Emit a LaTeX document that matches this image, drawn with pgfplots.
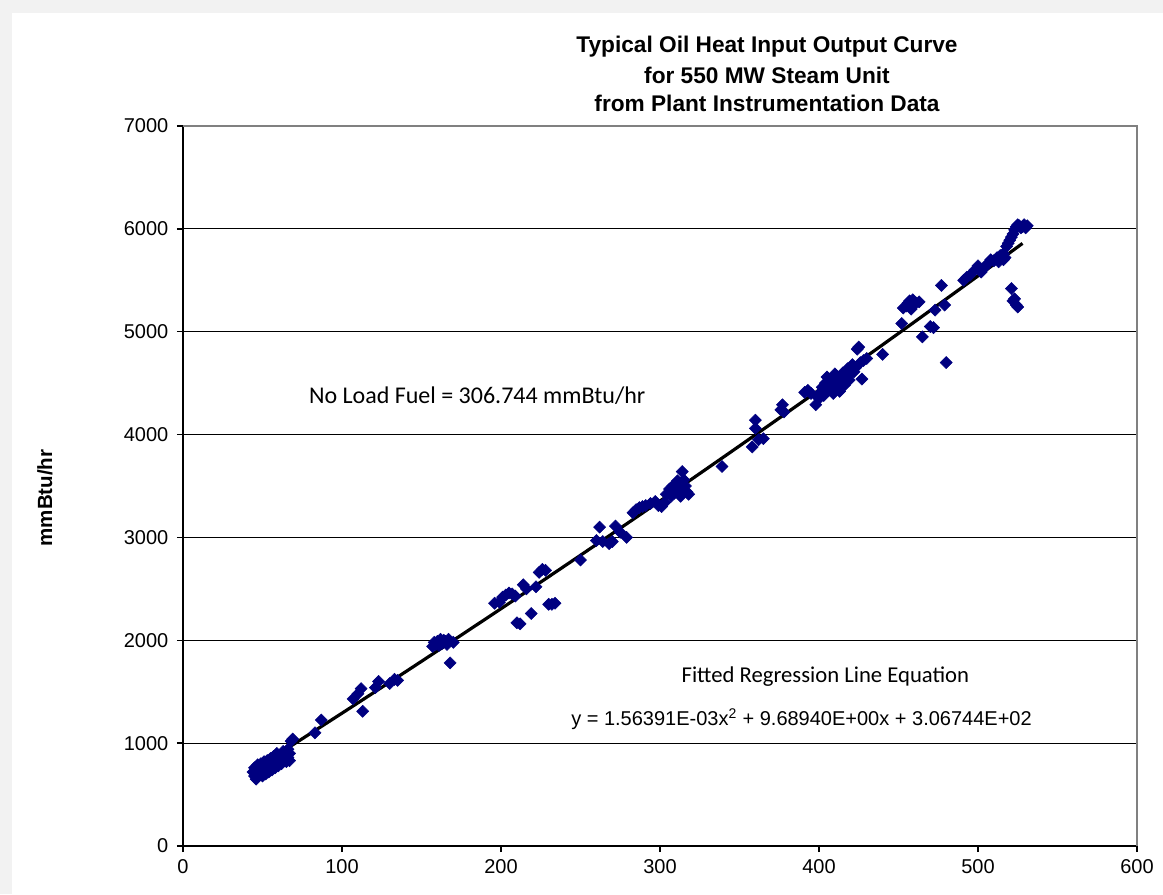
\documentclass[border=0pt]{standalone}
\usepackage{fontspec}
\setmainfont{Liberation Sans}
\newfontfamily\calibri{Carlito}
\usepackage{pgfplots}
\pgfplotsset{compat=1.18}
\definecolor{ptblue}{RGB}{0,0,128}
\definecolor{framegray}{RGB}{242,242,242}

\begin{document}
\begin{tikzpicture}
\useasboundingbox (-137.25pt,-36pt) rectangle (735pt,634.5pt);
\fill[framegray] (-137.25pt,624.75pt) rectangle (735pt,634.5pt);
\fill[framegray] (-137.25pt,-36pt) rectangle (-128.25pt,634.5pt);
\begin{axis}[
  at={(0pt,0pt)}, anchor=south west,
  scale only axis, width=715.5pt, height=540pt,
  xmin=0, xmax=600, ymin=0, ymax=7000,
  xtick={0,100,...,600}, ytick={0,1000,...,7000},
  axis x line*=bottom, axis y line*=left,
  axis line style={black, line width=1pt, -},
  tick align=outside, major tick length=4.5pt,
  tick style={black, line width=1pt},
  ymajorgrids, grid style={black, line width=0.75pt},
  ticklabel style={font=\fontsize{15}{18}\selectfont},
  /pgf/number format/assume math mode=true,
  /pgf/number format/set thousands separator={},
  xticklabel style={yshift=-2pt},
  yticklabel style={xshift=-3pt},
  clip=false,
]
\addplot[only marks, mark=square*, mark size=3.2pt,
  mark options={rotate=45, fill=ptblue, draw=ptblue}] coordinates {
(44,720)(45,680)(45,760)(46,650)(46,700)(47,740)(47,790)(48,690)(48,760)
(49,720)(49,800)(50,680)(50,770)(51,740)(51,820)(52,700)(52,790)(53,760)
(53,830)(54,720)(54,800)(55,780)(55,850)(56,740)(56,820)(57,800)(57,870)
(58,760)(58,840)(59,820)(59,900)(60,780)(60,860)(61,830)(62,880)(62,800)
(63,920)(63,850)(64,830)(64,900)(65,880)(66,860)(66,940)(67,900)(68,1020)
(69,1040)(67,830)(65,820)
(83,1100)(87,1225)(107,1430)(110,1480)(112,1530)(113,1310)(121,1540)
(123,1600)(130,1580)(133,1620)(135,1610)
(157,1940)(158,1980)(159,1960)(160,1990)(161,1950)(162,2010)(163,1970)
(164,2000)(165,1990)(166,1960)(167,2010)(170,1980)(168,1780)
(196,2360)(199,2370)(201,2420)(203,2440)(205,2460)(207,2450)(209,2430)
(210,2170)(212,2160)(214,2540)(216,2500)(219,2260)(222,2520)(224,2660)
(226,2690)(228,2680)(230,2350)(232,2350)(234,2360)
(250,2780)(260,2970)(262,3100)(264,2960)(268,2940)(270,2960)(272,3110)
(275,3050)(279,3000)(283,3240)(285,3270)(287,3290)(289,3300)(291,3310)
(294,3330)(297,3350)(299,3310)(301,3300)(303,3340)(304,3420)(306,3470)
(307,3400)(308,3500)(309,3430)(310,3520)(311,3550)(312,3470)(313,3400)
(314,3640)(315,3560)(316,3500)(317,3440)(318,3420)(339,3690)
(358,3880)(360,4060)(360,4140)(362,3950)(365,3960)
(376,4240)(377,4290)(378,4220)
(391,4410)(393,4430)(395,4400)(398,4290)(399,4370)(400,4350)(401,4410)
(402,4460)(403,4380)(404,4500)(405,4560)(406,4430)(407,4480)(408,4520)
(409,4400)(410,4590)(411,4460)(412,4550)(413,4420)(414,4520)(415,4600)
(416,4480)(417,4560)(418,4640)(419,4530)(420,4600)(421,4680)(422,4610)
(423,4650)(424,4830)(425,4850)(426,4700)(427,4540)(428,4720)(430,4740)
(440,4780)
(452,5080)(453,5230)(455,5250)(456,5280)(457,5300)(458,5220)(459,5310)
(461,5280)(463,5290)(465,4950)(470,5050)(472,5040)(473,5210)(477,5450)
(479,5260)(480,4700)
(491,5500)(493,5530)(495,5550)(498,5600)(500,5640)(502,5580)(504,5620)
(506,5660)(508,5700)(510,5690)(512,5720)(514,5740)(516,5760)(517,5720)
(518,5830)(519,5860)(520,5890)(521,5920)(522,5950)(523,5990)(524,6020)
(525,6040)(526,6030)(527,6010)(528,6020)(529,6040)(530,6010)(531,6030)
(516,5700)(513,5680)
(521,5420)(523,5320)(524,5260)(525,5240)(522,5300)
};
% fitted regression line (values of the printed equation)
\addplot[black, line width=2.4pt, smooth] coordinates {
(44,736.1)(100,1291.3)(150,1795.3)(200,2307.2)(250,2826.8)(300,3354.3)
(350,3889.6)(400,4432.7)(450,4983.7)(500,5542.4)(528,5858.7)
};
\draw[gray, line width=1.5pt] (rel axis cs:0,1) -- (rel axis cs:1,1) -- (rel axis cs:1,0);
\node[font=\calibri\fontsize{18}{21}\selectfont] at (axis cs:185,4375)
  {No Load Fuel = 306.744 mmBtu/hr};
\node[font=\calibri\fontsize{17}{20}\selectfont] at (axis cs:404,1643)
  {Fitted Regression Line Equation};
\node[font=\fontsize{15}{18}\selectfont] at (axis cs:389,1235)
  {y = 1.56391E-03x\textsuperscript{2} + 9.68940E+00x + 3.06744E+02};
\end{axis}
\node[font=\bfseries\fontsize{17}{20}\selectfont] at (438pt,599.25pt) {Typical Oil Heat Input Output Curve};
\node[font=\bfseries\fontsize{17}{20}\selectfont] at (438pt,578.25pt) {for 550 MW Steam Unit};
\node[font=\bfseries\fontsize{17}{20}\selectfont] at (438pt,557.25pt) {from Plant Instrumentation Data};
\node[font=\bfseries\fontsize{15.4}{18}\selectfont, rotate=90] at (-103.5pt,261pt) {mmBtu/hr};
\end{tikzpicture}
\end{document}
